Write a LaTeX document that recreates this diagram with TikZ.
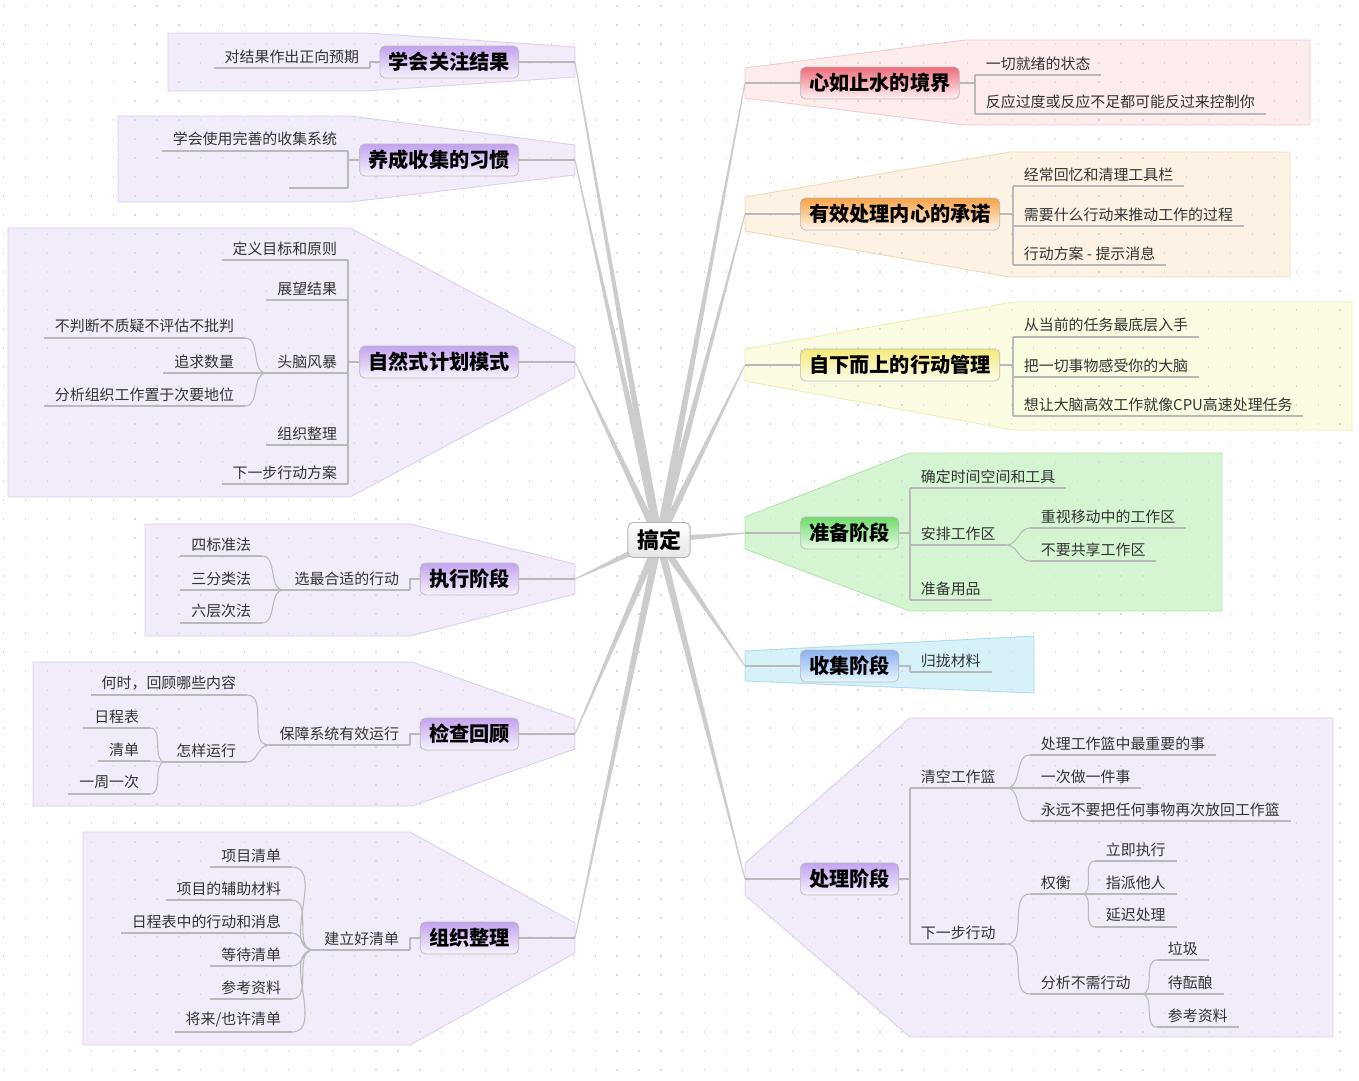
\documentclass[tikz,border=0pt]{standalone}
\usepackage{fontspec}
\setmainfont{Noto Sans CJK SC}
\usepackage{tikz}
\usetikzlibrary{calc,positioning}

\definecolor{lilac}{HTML}{F2EBF9}
\definecolor{lilacline}{HTML}{DDCDEF}
\definecolor{lilactop}{HTML}{C3A3F0}
\definecolor{rosy}{HTML}{FDECEC}
\definecolor{rosyline}{HTML}{F4CACA}
\definecolor{rosytop}{HTML}{EE6B7B}
\definecolor{apricot}{HTML}{FDF2E4}
\definecolor{apricotline}{HTML}{F3D8B6}
\definecolor{apricottop}{HTML}{F7A346}
\definecolor{lemon}{HTML}{FBFBE1}
\definecolor{lemonline}{HTML}{ECEDB8}
\definecolor{lemontop}{HTML}{F5E97A}
\definecolor{mint}{HTML}{D5F5D2}
\definecolor{mintline}{HTML}{B0E4AA}
\definecolor{minttop}{HTML}{6EDC6A}
\definecolor{sky}{HTML}{D7F1F9}
\definecolor{skyline}{HTML}{A9DCEC}
\definecolor{skytop}{HTML}{8DB1F2}

\begin{document}
\begin{tikzpicture}[x=0.02cm, y=-0.02cm,
	dotgrid/.style={gray!30, line width=0.7pt, dash pattern=on 0.7pt off 11.77pt},
	region/.style={fill=#1, draw=#1line, line width=0.5pt},
	spoke/.style={fill=gray!40},
	lnk/.style={draw=gray!55, line width=0.6pt},
	root/.style={draw=gray!60, rounded corners=3pt, top color=white, bottom color=gray!20,
		font=\fontsize{12.5}{14}\bfseries, minimum width=1.24cm, minimum height=0.7cm},
	topic/.style={draw=gray!55, rounded corners=3pt, top color=#1top, bottom color=#1!60!white,
		font=\fontsize{11.5}{13}\bfseries, inner xsep=5pt, minimum height=0.64cm},
	leaf/.style={font=\fontsize{8.5}{10}\selectfont, text=black!80, inner xsep=6pt, inner ysep=2.5pt,
		append after command={(\tikzlastnode.south west) edge[lnk] (\tikzlastnode.south east)}},
	leafL/.style={leaf, anchor=south east},
	leafR/.style={leaf, anchor=south west}]
	
	\useasboundingbox (0,0) rectangle (1359,1080);
	
	% regions
	\filldraw[region=lilac] (168,33) -- (367,33) -- (575,47) -- (575,77) -- (367,91) -- (168,91) -- cycle;
	\filldraw[region=lilac] (118,116) -- (350,116) -- (575,145) -- (575,175) -- (350,202) -- (118,202) -- cycle;
	\filldraw[region=lilac] (8,228) -- (350,228) -- (575,347) -- (575,377) -- (350,497) -- (8,497) -- cycle;
	\filldraw[region=lilac] (145,524) -- (410,524) -- (575,564) -- (575,594) -- (410,636) -- (145,636) -- cycle;
	\filldraw[region=lilac] (33,662) -- (412,662) -- (575,719) -- (575,749) -- (412,806) -- (33,806) -- cycle;
	\filldraw[region=lilac] (83,832) -- (410,832) -- (575,923) -- (575,953) -- (410,1045) -- (83,1045) -- cycle;
	
	\filldraw[region=rosy] (745,68) -- (965,40) -- (1310,40) -- (1310,125) -- (965,125) -- (745,98) -- cycle;
	\filldraw[region=apricot] (745,197) -- (1010,152) -- (1290,152) -- (1290,277) -- (1010,277) -- (745,231) -- cycle;
	\filldraw[region=lemon] (745,349) -- (1013,302) -- (1352,302) -- (1352,430) -- (1013,430) -- (745,381) -- cycle;
	\filldraw[region=mint] (745,517) -- (910,453) -- (1222,453) -- (1222,611) -- (910,611) -- (745,549) -- cycle;
	\filldraw[region=sky] (745,651) -- (1034,636) -- (1034,693) -- (745,681) -- cycle;
	\filldraw[region=lilac] (745,863) -- (910,718) -- (1333,718) -- (1333,1037) -- (910,1037) -- (745,895) -- cycle;
	
	\foreach \y in {6,25,...,1075}
		\draw[dotgrid] (3,\y) -- (1359,\y);
	
	% centre and spokes
	\node[root] (c) at (659,540) {};
	\coordinate (t1) at (575,62);
	\coordinate (t2) at (575,160);
	\coordinate (t3) at (575,362);
	\coordinate (t4) at (575,579);
	\coordinate (t5) at (575,734);
	\coordinate (t6) at (575,938);
	\coordinate (t7) at (745,83);
	\coordinate (t8) at (745,214);
	\coordinate (t9) at (745,365);
	\coordinate (t10) at (745,533);
	\coordinate (t11) at (745,666);
	\coordinate (t12) at (745,879);
	\foreach \t in {t1,t2,t3,t4,t5,t6,t7,t8,t9,t10,t11,t12}
		\fill[spoke] ($(c.center)!2.2pt!90:(\t)$) -- ($(\t)!0.3pt!-90:(c.center)$) -- ($(\t)!0.3pt!90:(c.center)$) -- ($(c.center)!2.2pt!-90:(\t)$) -- cycle;
	\node[root] at (c) {搞定};
	
	% left side
	\node[topic=lilac, anchor=east] (b1) at (519,62) {学会关注结果};
	\node[leafL] (n1a) at (370,68) {对结果作出正向预期};
	\draw[lnk] (t1) -- (b1.east);
	\draw[lnk] (b1.west) -| (n1a.south east);
	
	\node[topic=lilac, anchor=east] (b2) at (519,160) {养成收集的习惯};
	\node[leafL] (n2a) at (348,151) {学会使用完善的收集系统};
	\node[leafL, minimum width=1.16cm] (n2b) at (348,188) {};
	\draw[lnk] (t2) -- (b2.east);
	\foreach \n in {n2a,n2b}
		\draw[lnk] (b2.west) -| (\n.south east);
	
	\node[topic=lilac, anchor=east] (b3) at (519,362) {自然式计划模式};
	\node[leafL] (n3a) at (348,260) {定义目标和原则};
	\node[leafL] (n3b) at (348,300) {展望结果};
	\node[leafL] (n3c) at (348,373) {头脑风暴};
	\node[leafL] (n3d) at (348,445) {组织整理};
	\node[leafL] (n3e) at (348,484) {下一步行动方案};
	\node[leafL] (n3c1) at (245,338) {不判断不质疑不评估不批判};
	\node[leafL] (n3c2) at (245,373) {追求数量};
	\node[leafL] (n3c3) at (245,406) {分析组织工作置于次要地位};
	\draw[lnk] (t3) -- (b3.east);
	\foreach \n in {n3a,n3b,n3c,n3d,n3e}
		\draw[lnk] (b3.west) -| (\n.south east);
	\foreach \n in {n3c1,n3c2,n3c3}
		\draw[lnk] (n3c.south west) to[out=180,in=0] (\n.south east);
	
	\node[topic=lilac, anchor=east] (b4) at (519,579) {执行阶段};
	\node[leafL] (n4a) at (410,590) {选最合适的行动};
	\node[leafL] (n4a1) at (262,556) {四标准法};
	\node[leafL] (n4a2) at (262,590) {三分类法};
	\node[leafL] (n4a3) at (262,623) {六层次法};
	\draw[lnk] (t4) -- (b4.east);
	\draw[lnk] (b4.west) -| (n4a.south east);
	\foreach \n in {n4a1,n4a2,n4a3}
		\draw[lnk] (n4a.south west) to[out=180,in=0] (\n.south east);
	
	\node[topic=lilac, anchor=east] (b5) at (519,734) {检查回顾};
	\node[leafL] (n5a) at (410,745) {保障系统有效运行};
	\node[leafL] (n5a1) at (247,695) {何时，回顾哪些内容};
	\node[leafL] (n5a2) at (247,762) {怎样运行};
	\node[leafL] (n5b1) at (150,728) {日程表};
	\node[leafL] (n5b2) at (150,761) {清单};
	\node[leafL] (n5b3) at (150,794) {一周一次};
	\draw[lnk] (t5) -- (b5.east);
	\draw[lnk] (b5.west) -| (n5a.south east);
	\foreach \n in {n5a1,n5a2}
		\draw[lnk] (n5a.south west) to[out=180,in=0] (\n.south east);
	\foreach \n in {n5b1,n5b2,n5b3}
		\draw[lnk] (n5a2.south west) to[out=180,in=0] (\n.south east);
	
	\node[topic=lilac, anchor=east] (b6) at (519,938) {组织整理};
	\node[leafL] (n6a) at (410,950) {建立好清单};
	\node[leafL] (n6a1) at (292,867) {项目清单};
	\node[leafL] (n6a2) at (292,900) {项目的辅助材料};
	\node[leafL] (n6a3) at (292,933) {日程表中的行动和消息};
	\node[leafL] (n6a4) at (292,966) {等待清单};
	\node[leafL] (n6a5) at (292,999) {参考资料};
	\node[leafL] (n6a6) at (292,1032) {将来/也许清单};
	\draw[lnk] (t6) -- (b6.east);
	\draw[lnk] (b6.west) -| (n6a.south east);
	\foreach \n in {n6a1,n6a2,n6a3,n6a4,n6a5,n6a6}
		\draw[lnk] (n6a.south west) to[out=180,in=0] (\n.south east);
	
	% right side
	\node[topic=rosy, anchor=west] (b7) at (800,83) {心如止水的境界};
	\node[leafR] (n7a) at (975,75) {一切就绪的状态};
	\node[leafR] (n7b) at (975,114) {反应过度或反应不足都可能反过来控制你};
	\draw[lnk] (t7) -- (b7.west);
	\foreach \n in {n7a,n7b}
		\draw[lnk] (b7.east) -| (\n.south west);
	
	\node[topic=apricot, anchor=west] (b8) at (800,214) {有效处理内心的承诺};
	\node[leafR] (n8a) at (1013,186) {经常回忆和清理工具栏};
	\node[leafR] (n8b) at (1013,226) {需要什么行动来推动工作的过程};
	\node[leafR] (n8c) at (1013,265) {行动方案 - 提示消息};
	\draw[lnk] (t8) -- (b8.west);
	\foreach \n in {n8a,n8b,n8c}
		\draw[lnk] (b8.east) -| (\n.south west);
	
	\node[topic=lemon, anchor=west] (b9) at (800,365) {自下而上的行动管理};
	\node[leafR] (n9a) at (1013,337) {从当前的任务最底层入手};
	\node[leafR] (n9b) at (1013,377) {把一切事物感受你的大脑};
	\node[leafR] (n9c) at (1013,416) {想让大脑高效工作就像CPU高速处理任务};
	\draw[lnk] (t9) -- (b9.west);
	\foreach \n in {n9a,n9b,n9c}
		\draw[lnk] (b9.east) -| (\n.south west);
	
	\node[topic=mint, anchor=west] (b10) at (800,533) {准备阶段};
	\node[leafR] (n10a) at (910,488) {确定时间空间和工具};
	\node[leafR] (n10b) at (910,545) {安排工作区};
	\node[leafR] (n10c) at (910,600) {准备用品};
	\node[leafR] (n10b1) at (1030,528) {重视移动中的工作区};
	\node[leafR] (n10b2) at (1030,561) {不要共享工作区};
	\draw[lnk] (t10) -- (b10.west);
	\foreach \n in {n10a,n10b,n10c}
		\draw[lnk] (b10.east) -| (\n.south west);
	\foreach \n in {n10b1,n10b2}
		\draw[lnk] (n10b.south east) to[out=0,in=180] (\n.south west);
	
	\node[topic=sky, anchor=west] (b11) at (800,666) {收集阶段};
	\node[leafR] (n11a) at (910,672) {归拢材料};
	\draw[lnk] (t11) -- (b11.west);
	\draw[lnk] (b11.east) -| (n11a.south west);
	
	\node[topic=lilac, anchor=west] (b12) at (800,879) {处理阶段};
	\node[leafR] (n12a) at (910,788) {清空工作篮};
	\node[leafR] (n12b) at (910,944) {下一步行动};
	\node[leafR] (n12a1) at (1030,755) {处理工作篮中最重要的事};
	\node[leafR] (n12a2) at (1030,788) {一次做一件事};
	\node[leafR] (n12a3) at (1030,821) {永远不要把任何事物再次放回工作篮};
	\node[leafR] (n12b1) at (1030,894) {权衡};
	\node[leafR] (n12b2) at (1030,994) {分析不需行动};
	\node[leafR] (n12c1) at (1095,861) {立即执行};
	\node[leafR] (n12c2) at (1095,894) {指派他人};
	\node[leafR] (n12c3) at (1095,927) {延迟处理};
	\node[leafR] (n12d1) at (1157,960) {垃圾};
	\node[leafR] (n12d2) at (1157,994) {待酝酿};
	\node[leafR] (n12d3) at (1157,1027) {参考资料};
	\draw[lnk] (t12) -- (b12.west);
	\foreach \n in {n12a,n12b}
		\draw[lnk] (b12.east) -| (\n.south west);
	\foreach \n in {n12a1,n12a2,n12a3}
		\draw[lnk] (n12a.south east) to[out=0,in=180] (\n.south west);
	\foreach \n in {n12b1,n12b2}
		\draw[lnk] (n12b.south east) to[out=0,in=180] (\n.south west);
	\foreach \n in {n12c1,n12c2,n12c3}
		\draw[lnk] (n12b1.south east) to[out=0,in=180] (\n.south west);
	\foreach \n in {n12d1,n12d2,n12d3}
		\draw[lnk] (n12b2.south east) to[out=0,in=180] (\n.south west);
	
\end{tikzpicture}
\end{document}
